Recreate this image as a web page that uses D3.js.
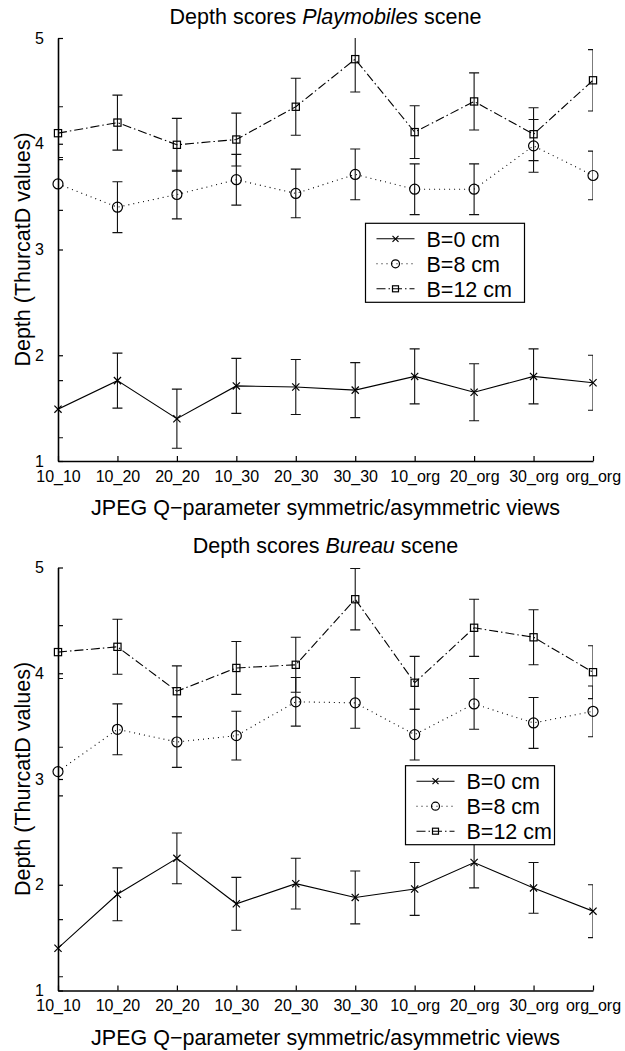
<!DOCTYPE html>
<html>
<head>
<meta charset="utf-8">
<script src="https://cdn.jsdelivr.net/npm/d3@7"></script>
<style>
  body { margin: 0; background: #fff; }
  text { font-family: "Liberation Sans", Arial, Helvetica, sans-serif; fill: #000; }
</style>
</head>
<body>
<svg id="chart" width="625" height="1051"></svg>
<script>
// categories on the x axis
const categories = ["10_10", "10_20", "20_20", "10_30", "20_30", "30_30", "10_org", "20_org", "30_org", "org_org"];
const yTicks = [1, 2, 3, 4, 5];
const seriesNames = ["B=0 cm", "B=8 cm", "B=12 cm"];

// Playmobiles scene: means and error half-widths
const playB0 = [1.49, 1.76, 1.40, 1.71, 1.70, 1.67, 1.80, 1.65, 1.80, 1.74];
const playB0Err = [0.27, 0.26, 0.28, 0.26, 0.26, 0.26, 0.26, 0.27, 0.26, 0.26];
const playB8 = [3.62, 3.40, 3.52, 3.66, 3.53, 3.71, 3.57, 3.57, 3.98, 3.70];
const playB8Err = [0.25, 0.24, 0.23, 0.24, 0.23, 0.24, 0.24, 0.24, 0.25, 0.23];
const playB12 = [4.10, 4.20, 3.99, 4.04, 4.35, 4.80, 4.11, 4.40, 4.09, 4.60];
const playB12Err = [0.25, 0.26, 0.25, 0.25, 0.27, 0.31, 0.25, 0.27, 0.25, 0.29];

// Bureau scene
const bureauB0 = [1.40, 1.91, 2.25, 1.82, 2.01, 1.88, 1.96, 2.21, 1.97, 1.75];
const bureauB0Err = [0.27, 0.25, 0.24, 0.25, 0.24, 0.25, 0.25, 0.24, 0.24, 0.25];
const bureauB8 = [3.07, 3.47, 3.35, 3.41, 3.73, 3.72, 3.42, 3.71, 3.53, 3.64];
const bureauB8Err = [0.23, 0.24, 0.24, 0.23, 0.23, 0.24, 0.24, 0.24, 0.24, 0.24];
const bureauB12 = [4.20, 4.25, 3.83, 4.05, 4.08, 4.70, 3.91, 4.43, 4.34, 4.01];
const bureauB12Err = [0.25, 0.26, 0.24, 0.25, 0.26, 0.29, 0.25, 0.27, 0.26, 0.25];

const svg = d3.select('#chart');
svg.append('rect').attr('width', 625).attr('height', 1051).attr('fill', '#fff');

const styles = [
    { dash: null, marker: 'x' },
    { dash: '1,4', marker: 'o' },
    { dash: '9,3,1.5,3', marker: 's' }
];

function drawMarker(g, type, x, y, s) {
    if (type === 'x') {
        g.append('path')
            .attr('d', `M${x - s},${y - s}L${x + s},${y + s}M${x - s},${y + s}L${x + s},${y - s}`)
            .attr('stroke', '#000').attr('stroke-width', 1.2).attr('fill', 'none');
    } else if (type === 'o') {
        g.append('circle').attr('cx', x).attr('cy', y).attr('r', s)
            .attr('stroke', '#000').attr('stroke-width', 1.2).attr('fill', 'none');
    } else {
        g.append('rect').attr('x', x - s).attr('y', y - s).attr('width', 2 * s).attr('height', 2 * s)
            .attr('stroke', '#000').attr('stroke-width', 1.2).attr('fill', 'none');
    }
}

function drawPanel(id, offsetY, sceneName, means, errs, legendBox) {
    const left = 58, right = 593, top = 38, bottom = 461;
    const g = svg.append('g').attr('transform', `translate(0,${offsetY})`);

    const x = d3.scalePoint().domain(categories).range([left, right]);
    const y = d3.scaleLinear().domain([1, 5]).range([bottom, top]);

    g.append('clipPath').attr('id', 'clip' + id)
        .append('rect').attr('x', left).attr('y', top).attr('width', right - left).attr('height', bottom - top);

    const plot = g.append('g').attr('clip-path', `url(#clip${id})`);

    means.forEach((vals, si) => {
        const line = d3.line().x((d, i) => x(categories[i])).y(d => y(d));
        plot.append('path').datum(vals)
            .attr('d', line)
            .attr('fill', 'none').attr('stroke', '#000').attr('stroke-width', 1.1)
            .attr('stroke-dasharray', styles[si].dash);

        // error bars
        vals.forEach((v, i) => {
            const cx = x(categories[i]);
            const e = errs[si][i];
            const y1 = y(v + e), y2 = y(v - e);
            plot.append('path')
                .attr('d', `M${cx},${y1}V${y2}M${cx - 5},${y1}H${cx + 5}M${cx - 5},${y2}H${cx + 5}`)
                .attr('stroke', '#111').attr('stroke-width', 1.1).attr('fill', 'none');
        });
    });

    // markers (not clipped)
    means.forEach((vals, si) => {
        vals.forEach((v, i) => {
            const size = styles[si].marker === 'o' ? 5 : 3.6;
            drawMarker(g, styles[si].marker, x(categories[i]), y(v), size);
        });
    });

    // axes
    const xAxis = d3.axisBottom(x).tickSizeInner(-5).tickSizeOuter(0).tickPadding(9);
    const xg = g.append('g').attr('transform', `translate(0,${bottom})`).call(xAxis);
    xg.select('.domain').attr('stroke-width', 1.6);
    xg.selectAll('.tick line').attr('stroke-width', 1.2);
    xg.selectAll('.tick text').attr('font-size', 16).attr('font-family', '"Liberation Sans", Arial, sans-serif')
        .attr('dy', '0.72em');

    const yAxis = d3.axisLeft(y).tickValues(yTicks).tickSizeInner(-5).tickSizeOuter(0).tickPadding(14)
        .tickFormat(d3.format('d'));
    const yg = g.append('g').attr('transform', `translate(${left},0)`).call(yAxis);
    yg.select('.domain').attr('stroke-width', 1.6);
    yg.selectAll('.tick line').attr('stroke-width', 1.2);
    yg.selectAll('.tick text').attr('font-size', 16).attr('font-family', '"Liberation Sans", Arial, sans-serif');

    // title
    const t = g.append('text').attr('x', (left + right) / 2).attr('y', 23.5)
        .attr('text-anchor', 'middle').attr('font-size', 21.5);
    t.append('tspan').text('Depth scores ');
    t.append('tspan').attr('font-style', 'italic').text(sceneName);
    t.append('tspan').text(' scene');

    g.append('text').attr('x', (left + right) / 2).attr('y', 515)
        .attr('text-anchor', 'middle').attr('font-size', 21.5)
        .text('JPEG Q\u2212parameter symmetric/asymmetric views');

    g.append('text').attr('transform', `translate(30,${(top + bottom) / 2}) rotate(-90)`)
        .attr('text-anchor', 'middle').attr('font-size', 21.5)
        .text('Depth (ThurcatD values)');

    // legend
    const lg = g.append('g').attr('transform', `translate(${legendBox.x},${legendBox.y})`);
    lg.append('rect').attr('width', legendBox.w).attr('height', 79)
        .attr('fill', '#fff').attr('stroke', '#000').attr('stroke-width', 1.2);
    seriesNames.forEach((name, si) => {
        const ry = 15.5 + si * 25;
        lg.append('line').attr('x1', 11).attr('x2', 49).attr('y1', ry).attr('y2', ry)
            .attr('stroke', '#000').attr('stroke-width', 1.1).attr('stroke-dasharray', styles[si].dash);
        drawMarker(lg, styles[si].marker, 30, ry, styles[si].marker === 'o' ? 4 : 3);
        lg.append('text').attr('x', 61).attr('y', ry).attr('dy', '0.36em')
            .attr('font-size', 21.5).text(name);
    });
}

drawPanel('a', 0, 'Playmobiles', [playB0, playB8, playB12], [playB0Err, playB8Err, playB12Err],
    { x: 365.5, y: 223.3, w: 159 });
drawPanel('b', 529.5, 'Bureau', [bureauB0, bureauB8, bureauB12], [bureauB0Err, bureauB8Err, bureauB12Err],
    { x: 405.5, y: 236.2, w: 149 });
</script>
</body>
</html>
